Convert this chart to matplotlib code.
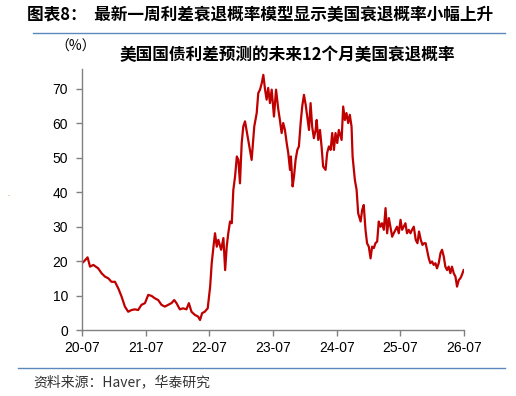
import pandas as pd
import matplotlib
matplotlib.use('Agg')
import matplotlib.pyplot as plt
import matplotlib.dates as mdates

plt.rcParams['font.family'] = ['Liberation Sans', 'Noto Sans CJK SC', 'DejaVu Sans']

# 美国国债利差预测的未来12个月美国衰退概率 (%)
dates = [
    '2020-07-03', '2020-07-14', '2020-08-02', '2020-08-16', '2020-09-04', '2020-10-02',
    '2020-10-21', '2020-11-10', '2020-11-29', '2020-12-17', '2021-01-06', '2021-01-25',
    '2021-02-13', '2021-03-04', '2021-03-23', '2021-04-11', '2021-04-30', '2021-05-19',
    '2021-06-07', '2021-06-27', '2021-07-16', '2021-08-04', '2021-08-23', '2021-09-11',
    '2021-09-30', '2021-10-19', '2021-11-07', '2021-11-26', '2021-12-12', '2021-12-25',
    '2022-01-13', '2022-02-01', '2022-02-20', '2022-03-06', '2022-03-21', '2022-04-09',
    '2022-04-28', '2022-05-09', '2022-05-21', '2022-06-05', '2022-06-22', '2022-07-06',
    '2022-07-15', '2022-07-25', '2022-08-03', '2022-08-13', '2022-08-22', '2022-09-07',
    '2022-09-20', '2022-09-30', '2022-10-09', '2022-10-18', '2022-10-28', '2022-11-07',
    '2022-11-16', '2022-11-26', '2022-12-06', '2022-12-15', '2022-12-24', '2023-01-03',
    '2023-01-12', '2023-01-22', '2023-02-01', '2023-02-10', '2023-03-01', '2023-03-16',
    '2023-03-30', '2023-04-08', '2023-04-18', '2023-04-28', '2023-05-07', '2023-05-17',
    '2023-05-26', '2023-06-04', '2023-06-14', '2023-06-24', '2023-07-07', '2023-07-19',
    '2023-08-01', '2023-08-10', '2023-08-20', '2023-08-29', '2023-09-08', '2023-09-18',
    '2023-09-27', '2023-10-07', '2023-10-12', '2023-10-22', '2023-10-30', '2023-11-08',
    '2023-11-18', '2023-11-27', '2023-12-07', '2023-12-16', '2023-12-26', '2024-01-05',
    '2024-01-14', '2024-01-24', '2024-02-02', '2024-02-11', '2024-02-21', '2024-03-02',
    '2024-03-08', '2024-03-17', '2024-03-27', '2024-04-05', '2024-04-14', '2024-04-28',
    '2024-05-07', '2024-05-17', '2024-05-27', '2024-06-05', '2024-06-15', '2024-06-24',
    '2024-07-04', '2024-07-13', '2024-07-29', '2024-08-07', '2024-08-17', '2024-08-26',
    '2024-09-05', '2024-09-14', '2024-09-24', '2024-09-30', '2024-10-13', '2024-10-23',
    '2024-11-01', '2024-11-15', '2024-11-24', '2024-12-03', '2024-12-13', '2024-12-22',
    '2025-01-01', '2025-01-11', '2025-01-20', '2025-01-30', '2025-02-08', '2025-02-18',
    '2025-02-27', '2025-03-09', '2025-03-18', '2025-03-28', '2025-04-07', '2025-04-16',
    '2025-04-26', '2025-05-05', '2025-05-15', '2025-05-24', '2025-06-03', '2025-06-12',
    '2025-06-22', '2025-07-02', '2025-07-11', '2025-07-20', '2025-07-30', '2025-08-08',
    '2025-08-18', '2025-08-28', '2025-09-06', '2025-09-16', '2025-09-27', '2025-10-07',
    '2025-10-16', '2025-10-26', '2025-11-05', '2025-11-14', '2025-11-23', '2025-12-01',
    '2025-12-11', '2025-12-20', '2025-12-30', '2026-01-08', '2026-01-18', '2026-01-27',
    '2026-02-06', '2026-02-16', '2026-02-25', '2026-03-07', '2026-03-16', '2026-03-26',
    '2026-04-04', '2026-04-14', '2026-04-23', '2026-05-03', '2026-05-13', '2026-05-22',
    '2026-06-01', '2026-06-10', '2026-06-19', '2026-06-29',
]
prob = [
    19.5, 20.0, 21.1, 18.4, 18.9, 17.9,
    16.5, 15.5, 15.0, 14.0, 14.0, 12.1,
    9.7, 6.8, 5.3, 5.8, 6.0, 5.8,
    7.3, 7.8, 10.2, 9.9, 9.2, 8.7,
    7.3, 6.8, 7.3, 7.8, 8.7, 7.8,
    6.0, 6.3, 6.0, 7.8, 5.3, 4.4,
    3.9, 2.9, 4.9, 5.3, 6.3, 12.6,
    19.4, 24.2, 28.1, 24.2, 26.2, 23.3,
    26.7, 17.4, 24.2, 28.1, 31.5, 31.0,
    40.7, 44.6, 50.4, 49.4, 42.6, 54.3,
    59.1, 60.6, 57.7, 55.2, 49.4, 59.1,
    63.0, 68.8, 69.8, 71.7, 74.1, 69.8,
    66.9, 70.3, 65.9, 69.8, 62.0, 69.8,
    64.0, 61.0, 57.2, 60.1, 58.1, 54.3,
    51.4, 46.5, 50.4, 41.7, 44.6, 49.4,
    52.3, 53.3, 60.1, 64.9, 68.3, 65.4,
    62.0, 58.1, 65.9, 59.1, 55.7, 58.1,
    61.0, 55.2, 58.1, 53.3, 47.5, 46.5,
    51.4, 53.3, 52.3, 57.2, 52.3, 57.2,
    54.3, 58.1, 55.2, 64.9, 61.0, 63.0,
    60.1, 62.5, 59.1, 50.4, 43.6, 40.7,
    33.9, 31.5, 34.9, 36.3, 29.1, 25.2,
    24.2, 20.8, 24.2, 23.8, 25.2, 25.7,
    31.5, 30.0, 31.0, 29.1, 35.4, 28.1,
    32.5, 30.0, 27.1, 28.1, 29.1, 30.0,
    28.1, 32.0, 29.1, 30.0, 31.0, 28.1,
    29.1, 28.1, 29.1, 30.0, 26.2, 25.2,
    28.6, 26.2, 24.7, 25.2, 25.2, 23.3,
    20.8, 19.4, 19.9, 18.9, 19.4, 17.9,
    19.4, 22.3, 23.3, 21.3, 18.4, 17.4,
    18.4, 16.5, 18.4, 16.5, 15.5, 12.6,
    14.5, 15.0, 16.0, 17.4,
]
tick_dates = ['2020-07-01', '2021-07-01', '2022-07-01', '2023-07-01',
              '2024-07-01', '2025-07-01', '2026-07-01']
yticks = [0, 10, 20, 30, 40, 50, 60, 70]

df = pd.DataFrame({'date': pd.to_datetime(dates), 'prob': prob})

fig = plt.figure(figsize=(5.16, 3.96), dpi=100)
ax = fig.add_axes([82 / 516, 1 - 330 / 396, (464 - 82) / 516, (330 - 69) / 396])

ax.plot(df['date'], df['prob'], color='#c00000', linewidth=1.6)

ax.set_xlim(pd.Timestamp(tick_dates[0]), pd.Timestamp(tick_dates[-1]))
ax.set_ylim(0, 75.8)
ax.set_xticks(pd.to_datetime(tick_dates))
ax.xaxis.set_major_formatter(mdates.DateFormatter('%y-%m'))
ax.set_yticks(yticks)

for side in ['top', 'right']:
    ax.spines[side].set_visible(False)
for side in ['left', 'bottom']:
    ax.spines[side].set_color('#808080')
    ax.spines[side].set_linewidth(1.0)
ax.tick_params(axis='both', direction='out', length=4, width=1, color='#808080',
               labelsize=10, labelcolor='black')
ax.tick_params(axis='y', pad=6)
ax.tick_params(axis='x', pad=4)

cjk = ['Noto Sans CJK SC', 'DejaVu Sans']

# headings and source
fig.text(27 / 516, 1 - 15 / 396, '图表8：  最新一周利差衰退概率模型显示美国衰退概率小幅上升',
         fontsize=12, fontweight='bold', va='center', ha='left', family=cjk)
fig.add_artist(plt.Line2D([33 / 516, 505 / 516], [1 - 33 / 396, 1 - 33 / 396],
                          color='#5b87bd', linewidth=1.0))
fig.text(120 / 516, 1 - 55 / 396, '美国国债利差预测的未来12个月美国衰退概率',
         fontsize=12, fontweight='bold', va='center', ha='left', family=cjk)
fig.text(76 / 516, 1 - 47 / 396, '（%）', fontsize=10, va='center', ha='center', family=cjk)
fig.text(8 / 516, 1 - 195 / 396, '..', fontsize=4, color='#d06000', va='center', ha='left')
fig.add_artist(plt.Line2D([18 / 516, 505 / 516], [1 - 368 / 396, 1 - 368 / 396],
                          color='#5b87bd', linewidth=1.0))
fig.text(33 / 516, 1 - 382 / 396, '资料来源：Haver，华泰研究', fontsize=10,
         va='center', ha='left', color='#333333', family=cjk)

fig.savefig('out.png', dpi=100)
